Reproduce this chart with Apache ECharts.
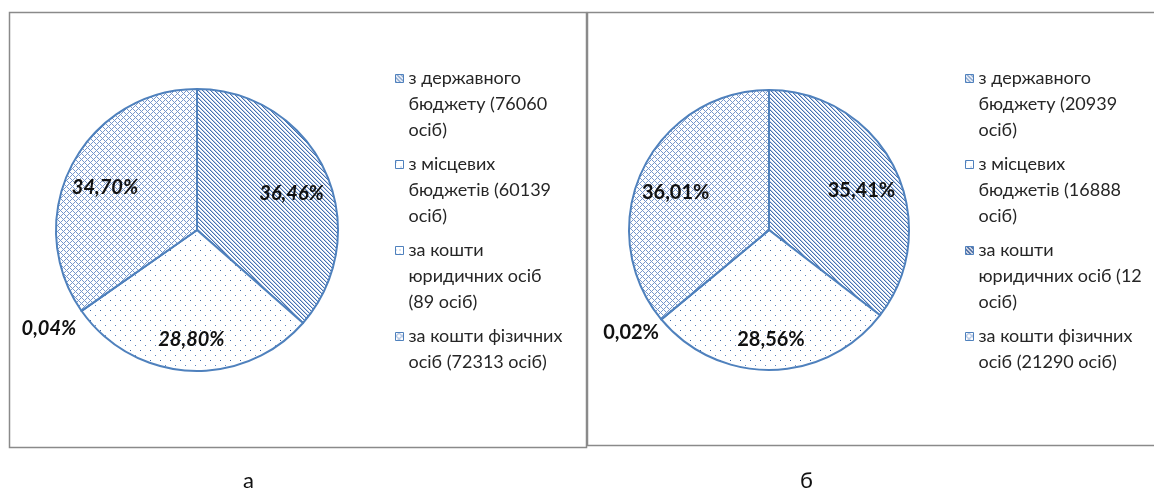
<!DOCTYPE html>
<html>
<head>
<meta charset="utf-8">
<script src="https://cdn.jsdelivr.net/npm/echarts@6/dist/echarts.min.js"></script>
<style>
  html, body { margin: 0; padding: 0; background: #fff; }
  #chart { width: 1154px; height: 492px; }
</style>
</head>
<body>
<div id="chart"></div>
<script>
// percentages as printed on the slices
const categories = ['з державного бюджету', 'з місцевих бюджетів', 'за кошти юридичних осіб', 'за кошти фізичних осіб'];
const sharesA = [36.46, 28.80, 0.04, 34.70];
const sharesB = [35.41, 28.56, 0.02, 36.01];
const countsA = [76060, 60139, 89, 72313];
const countsB = [20939, 16888, 12, 21290];
const legendTextA = [
    'з державного\nбюджету (76060\nосіб)',
    'з місцевих\nбюджетів (60139\nосіб)',
    'за кошти\nюридичних осіб\n(89 осіб)',
    'за кошти фізичних\nосіб (72313 осіб)'
];
const legendTextB = [
    'з державного\nбюджету (20939\nосіб)',
    'з місцевих\nбюджетів (16888\nосіб)',
    'за кошти\nюридичних осіб (12\nосіб)',
    'за кошти фізичних\nосіб (21290 осіб)'
];
const captions = ['а', 'б'];

const blue = '#4F81BD';
const fontFamily = 'Lato, "Noto Sans", sans-serif';
const lineH = 26;

function makePattern(size, draw) {
    const c = document.createElement('canvas');
    c.width = c.height = size;
    const ctx = c.getContext('2d');
    ctx.fillStyle = '#fff';
    ctx.fillRect(0, 0, size, size);
    draw(ctx, size);
    return { image: c, repeat: 'repeat' };
}

function px(ctx, x, y, color) {
    ctx.fillStyle = color;
    ctx.fillRect(x, y, 1, 1);
}

// "\" diagonal stripes
const diagPattern = makePattern(4, (ctx, s) => {
    for (let x = 0; x < s; x++) {
        for (let y = 0; y < s; y++) {
            const k = ((x - y) % s + s) % s;
            if (k === 0) px(ctx, x, y, '#4670AE');
            if (k === 1) px(ctx, x, y, '#BCCDE8');
        }
    }
});
// sparse dots
const dotPattern = makePattern(10, (ctx) => {
    px(ctx, 0, 0, '#3A64A4');
    px(ctx, 5, 5, '#5A84C0');
});
// denser dots (legend icon of the tiny slice)
const dotPattern2 = makePattern(4, (ctx) => {
    px(ctx, 0, 0, '#6F94C8');
});
// diamond lattice
const crossPattern = makePattern(6, (ctx, s) => {
    for (let x = 0; x < s; x++) {
        for (let y = 0; y < s; y++) {
            if ((x + y) % s === 0 || ((x - y) % s + s) % s === 0) px(ctx, x, y, '#7797CB');
        }
    }
});
// heavy diagonal
const heavyDiag = makePattern(4, (ctx, s) => {
    for (let x = 0; x < s; x++) {
        for (let y = 0; y < s; y++) {
            const k = ((x - y) % s + s) % s;
            if (k < 2) px(ctx, x, y, '#24478A');
        }
    }
});

const fillsA = [diagPattern, dotPattern, dotPattern2, crossPattern];
const fillsB = [diagPattern, dotPattern, heavyDiag, crossPattern];

function fmtPct(v) {
    return v.toFixed(2).replace('.', ',') + '%';
}

function nameOf(i, counts) {
    return categories[i] + ' (' + counts[i] + ' осіб)';
}

function pieData(shares, counts, fills) {
    return shares.map((v, i) => ({
        name: nameOf(i, counts),
        value: v,
        itemStyle: { color: fills[i] }
    }));
}

function labelData(shares, counts, tinyLen, tinyDist) {
    return shares.map((v, i) => {
        const d = { name: nameOf(i, counts), value: v };
        if (v < 1) {
            d.label = { position: 'outside', distanceToLabelLine: tinyDist };
            d.labelLine = { show: false, length: tinyLen, length2: 0 };
        }
        return d;
    });
}

// square icon sitting on the first of three text lines
const iconH = lineH * 3;
const legendIcon = 'path://M0,0M0,' + iconH + 'M0,' + (lineH / 2 - 4) + 'H8V' + (lineH / 2 + 4) + 'H0Z';

function makeLegend(left, counts, texts) {
    const map = {};
    counts.forEach((c, i) => {
        // pad every entry to three lines so the icons line up with the first line
        const n = texts[i].split('\n').length;
        map[nameOf(i, counts)] = texts[i] + '\n '.repeat(3 - n);
    });
    return {
        orient: 'vertical',
        left: left,
        top: 60,
        itemWidth: 8,
        itemHeight: iconH,
        itemGap: 7,
        selectedMode: false,
        icon: legendIcon,
        itemStyle: { borderColor: blue, borderWidth: 1 },
        data: counts.map((c, i) => nameOf(i, counts)),
        formatter: (name) => map[name],
        textStyle: {
            fontFamily: fontFamily,
            fontSize: 18,
            color: '#262626',
            lineHeight: lineH
        }
    };
}

function visiblePie(center, r, data) {
    return {
        type: 'pie',
        center: center,
        radius: r,
        startAngle: 90,
        clockwise: true,
        avoidLabelOverlap: false,
        silent: true,
        label: { show: false },
        labelLine: { show: false },
        itemStyle: { borderColor: blue, borderWidth: 2 },
        data: data
    };
}

// transparent copy of the pie that only carries the percentage labels
function labelPie(center, r, data, italic) {
    return {
        type: 'pie',
        center: [center[0], center[1] + 6],
        radius: [r * 0.43, r],
        startAngle: 90,
        clockwise: true,
        avoidLabelOverlap: false,
        silent: true,
        legendHoverLink: false,
        itemStyle: { color: 'rgba(0,0,0,0)', borderWidth: 0 },
        label: {
            show: true,
            position: 'inside',
            formatter: (p) => fmtPct(p.value),
            fontFamily: fontFamily,
            fontSize: 20,
            fontWeight: 'bold',
            fontStyle: italic ? 'italic' : 'normal',
            color: '#111'
        },
        labelLine: { show: false },
        data: data
    };
}

const chart = echarts.init(document.getElementById('chart'), null, { renderer: 'canvas' });

chart.setOption({
    animation: false,
    backgroundColor: '#fff',
    legend: [
        makeLegend(390, countsA, legendTextA),
        makeLegend(960, countsB, legendTextB)
    ],
    graphic: [
        {
            type: 'rect',
            shape: { x: 9.5, y: 12.5, width: 577, height: 435 },
            style: { fill: 'none', stroke: '#8A8A8A', lineWidth: 1.5 }
        },
        {
            type: 'rect',
            shape: { x: 587.5, y: 12.5, width: 600, height: 433 },
            style: { fill: 'none', stroke: '#8A8A8A', lineWidth: 1.5 }
        },
        {
            type: 'text',
            left: 243,
            top: 470,
            style: { text: captions[0], font: '22px ' + fontFamily, fill: '#111' }
        },
        {
            type: 'text',
            left: 800,
            top: 470,
            style: { text: captions[1], font: '22px ' + fontFamily, fill: '#111' }
        }
    ],
    series: [
        visiblePie([197, 230], 141, pieData(sharesA, countsA, fillsA)),
        visiblePie([769, 230], 140, pieData(sharesB, countsB, fillsB)),
        labelPie([197, 230], 141, labelData(sharesA, countsA, 21, -12), true),
        labelPie([769, 230], 140, labelData(sharesB, countsB, 12, -7), false)
    ]
});
</script>
</body>
</html>
